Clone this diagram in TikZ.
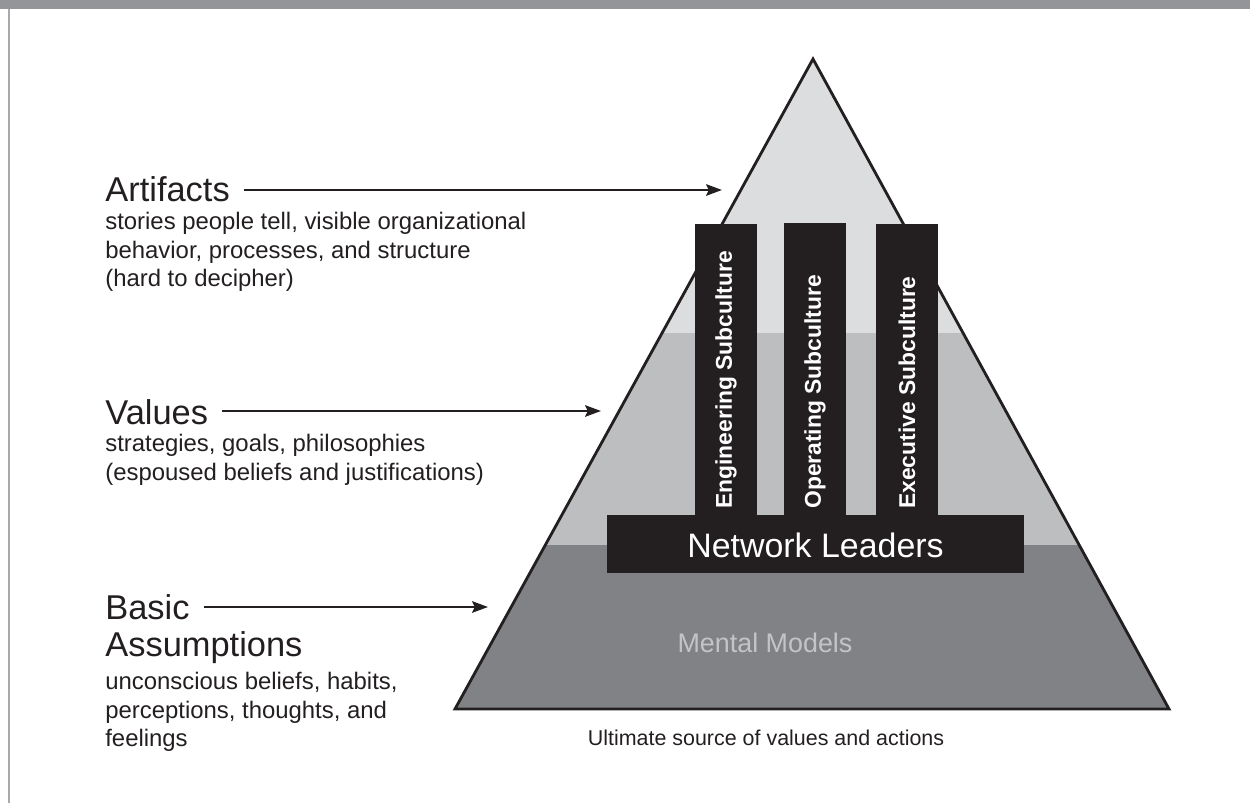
\documentclass[tikz,border=0pt]{standalone}
\usepackage{fontspec}
\setmainfont{Liberation Sans}
\usepackage{tikz}
\usetikzlibrary{arrows.meta}

\definecolor{frameGray}{HTML}{939598}
\definecolor{ruleGray}{HTML}{A7A9AC}
\definecolor{topBand}{HTML}{DCDDDF}
\definecolor{midBand}{HTML}{BCBEC0}
\definecolor{lowBand}{HTML}{808285}
\definecolor{inkBlack}{HTML}{231F20}
\definecolor{modelGray}{HTML}{C3C4C6}

\begin{document}
\begin{tikzpicture}[x=0.02cm, y=-0.02cm,
	heading/.style={anchor=base west, inner sep=0pt, text=inkBlack, font=\fontsize{19.6}{23}\selectfont},
	caption/.style={anchor=north west, inner sep=0pt, align=left, text=inkBlack, font=\fontsize{13.6}{16.2}\selectfont},
	pointer/.style={-{Stealth[length=9pt,width=6.5pt,inset=1.5pt]}, line width=1.4pt, draw=inkBlack},
	pillar/.style={fill=inkBlack},
	pillarlabel/.style={rotate=90, anchor=west, inner sep=0pt, text=white, font=\bfseries\fontsize{13}{15}\selectfont}]
	\useasboundingbox (0,0) rectangle (1250,803);
	
	%frame
	\fill[frameGray] (0,0) rectangle (1250,9);
	\fill[ruleGray] (7.5,9) rectangle (9.5,803);
	
	%pyramid
	\coordinate (top) at (813,59);
	\coordinate (bl) at (455,709);
	\coordinate (br) at (1169,709);
	\begin{scope}
		\clip (top)--(br)--(bl)--cycle;
		\fill[topBand] (440,40) rectangle (1190,333);
		\fill[midBand] (440,333) rectangle (1190,545);
		\fill[lowBand] (440,545) rectangle (1190,720);
	\end{scope}
	\draw[line width=1.6pt, draw=inkBlack, line join=miter] (top)--(br)--(bl)--cycle;
	
	%subculture pillars
	\fill[pillar] (695,224) rectangle (757,515);
	\fill[pillar] (784,223) rectangle (846,515);
	\fill[pillar] (876,224) rectangle (938,515);
	\node[pillarlabel] (eng) at (726,509) {Engineering Subculture};
	\node[pillarlabel] (ops) at (815,509) {Operating Subculture};
	\node[pillarlabel] (exe) at (907,509) {Executive Subculture};
	
	%base block
	\fill[pillar] (607,515) rectangle (1024,573);
	\node[inner sep=0pt, text=white, font=\fontsize{19.3}{23}\selectfont] (lead) at (815.5,545) {Network Leaders};
	\node[anchor=base, inner sep=0pt, text=modelGray, font=\fontsize{15.3}{18}\selectfont] (models) at (765,652) {Mental Models};
	\node[anchor=base, inner sep=0pt, text=inkBlack, font=\fontsize{12.2}{15}\selectfont] (source) at (766,745) {Ultimate source of values and actions};
	
	%labels
	\node[heading] (art) at (105,202) {Artifacts};
	\node[caption] (artTxt) at (105,212) {stories people tell, visible organizational\\behavior, processes, and structure\\(hard to decipher)};
	%
	\node[heading] (val) at (105,424) {Values};
	\node[caption] (valTxt) at (105,434) {strategies, goals, philosophies\\(espoused beliefs and justifications)};
	%
	\node[heading] (bas) at (105,619) {Basic};
	\node[heading] (asm) at (105,656) {Assumptions};
	\node[caption] (basTxt) at (105,672) {unconscious beliefs, habits,\\perceptions, thoughts, and\\feelings};
	
	%arrows
	\coordinate (artTip) at (722,190);
	\coordinate (valTip) at (601,411);
	\coordinate (basTip) at (488,607);
	\draw[pointer] ([xshift=8pt]art.east |- artTip) -- (artTip);
	\draw[pointer] ([xshift=8pt]val.east |- valTip) -- (valTip);
	\draw[pointer] ([xshift=8pt]bas.east |- basTip) -- (basTip);
\end{tikzpicture}
\end{document}
